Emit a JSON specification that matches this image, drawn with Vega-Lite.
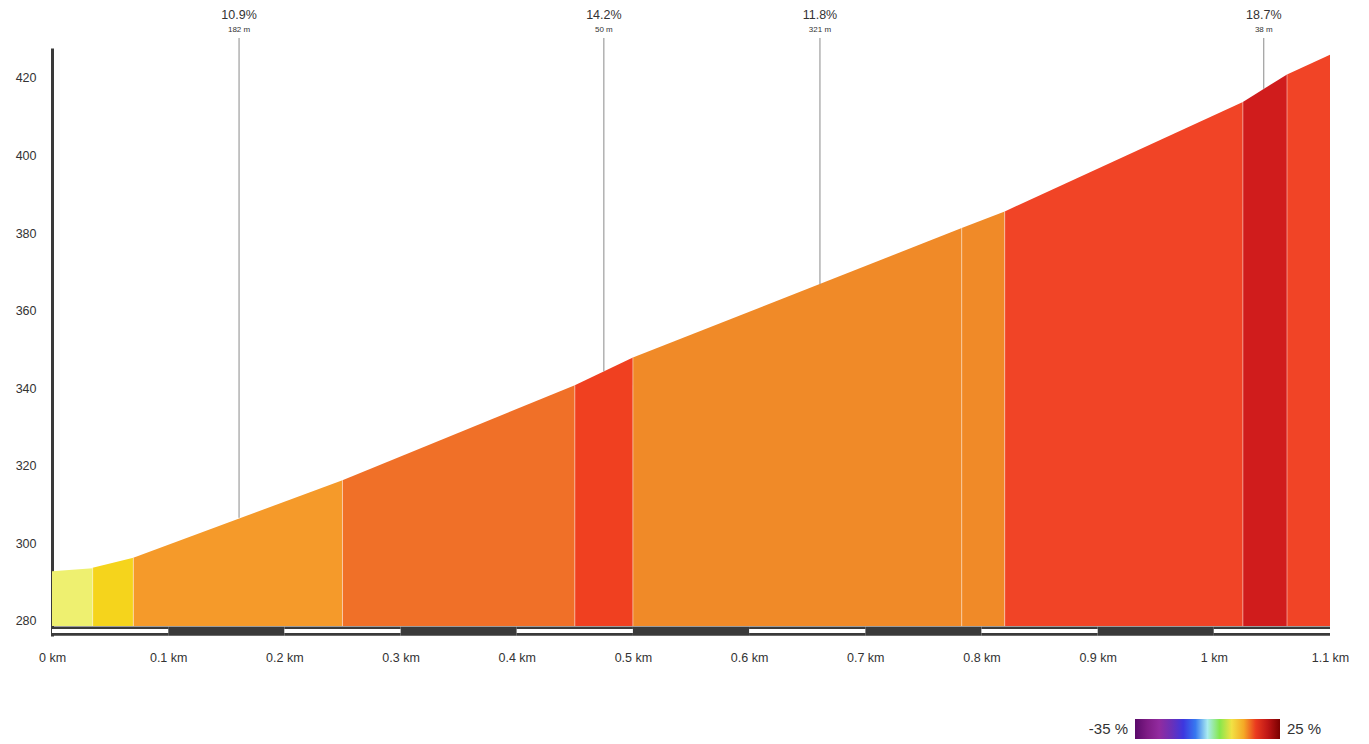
{
  "$schema": "https://vega.github.io/schema/vega-lite/v6.json",
  "autosize": "none",
  "width": 1278,
  "height": 588,
  "padding": {"left": 52, "top": 48, "right": 39, "bottom": 108},
  "background": "white",
  "config": {"view": {"stroke": null}, "font": "Liberation Sans"},
  "datasets": {
    "profile": [
      {"seg": 1, "km": 0, "elev": 292.8, "grade": 2.3},
      {"seg": 1, "km": 0.035, "elev": 293.6, "grade": 2.3},
      {"seg": 2, "km": 0.035, "elev": 293.7, "grade": 7.4},
      {"seg": 2, "km": 0.07, "elev": 296.3, "grade": 7.4},
      {"seg": 3, "km": 0.07, "elev": 296.3, "grade": 10.9},
      {"seg": 3, "km": 0.25, "elev": 316.3, "grade": 10.9},
      {"seg": 4, "km": 0.25, "elev": 316.3, "grade": 12.3},
      {"seg": 4, "km": 0.45, "elev": 340.8, "grade": 12.3},
      {"seg": 5, "km": 0.45, "elev": 340.8, "grade": 14.2},
      {"seg": 5, "km": 0.5, "elev": 347.9, "grade": 14.2},
      {"seg": 6, "km": 0.5, "elev": 347.9, "grade": 11.8},
      {"seg": 6, "km": 0.783, "elev": 381.3, "grade": 11.8},
      {"seg": 7, "km": 0.783, "elev": 381.3, "grade": 11.8},
      {"seg": 7, "km": 0.82, "elev": 385.6, "grade": 11.8},
      {"seg": 8, "km": 0.82, "elev": 385.6, "grade": 13.8},
      {"seg": 8, "km": 1.025, "elev": 413.8, "grade": 13.8},
      {"seg": 9, "km": 1.025, "elev": 413.8, "grade": 18.7},
      {"seg": 9, "km": 1.063, "elev": 420.9, "grade": 18.7},
      {"seg": 10, "km": 1.063, "elev": 420.9, "grade": 13.8},
      {"seg": 10, "km": 1.1, "elev": 426.0, "grade": 13.8}
    ],
    "bounds": [
      {"km": 0.035, "elev": 293.7},
      {"km": 0.07, "elev": 296.3},
      {"km": 0.25, "elev": 316.3},
      {"km": 0.45, "elev": 340.8},
      {"km": 0.5, "elev": 347.9},
      {"km": 0.783, "elev": 381.3},
      {"km": 0.82, "elev": 385.6},
      {"km": 1.025, "elev": 413.8},
      {"km": 1.063, "elev": 420.9}
    ],
    "strip": [
      {"from": 0, "to": 0.1, "band": "light"},
      {"from": 0.1, "to": 0.2, "band": "dark"},
      {"from": 0.2, "to": 0.3, "band": "light"},
      {"from": 0.3, "to": 0.4, "band": "dark"},
      {"from": 0.4, "to": 0.5, "band": "light"},
      {"from": 0.5, "to": 0.6, "band": "dark"},
      {"from": 0.6, "to": 0.7, "band": "light"},
      {"from": 0.7, "to": 0.8, "band": "dark"},
      {"from": 0.8, "to": 0.9, "band": "light"},
      {"from": 0.9, "to": 1.0, "band": "dark"},
      {"from": 1.0, "to": 1.1, "band": "light"}
    ],
    "annot": [
      {"km": 0.161, "elev": 306.6, "pct": "10.9%", "len": "182 m"},
      {"km": 0.475, "elev": 344.35, "pct": "14.2%", "len": "50 m"},
      {"km": 0.661, "elev": 366.8, "pct": "11.8%", "len": "321 m"},
      {"km": 1.043, "elev": 417.2, "pct": "18.7%", "len": "38 m"}
    ]
  },
  "layer": [
    {
      "data": {"name": "profile"},
      "mark": {"type": "area", "interpolate": "linear"},
      "encoding": {
        "x": {
          "field": "km", "type": "quantitative",
          "scale": {"domain": [0, 1.1], "nice": false, "zero": false},
          "axis": {
            "title": null, "grid": false, "ticks": false, "tickSize": 0, "domain": false,
            "values": [0, 0.1, 0.2, 0.3, 0.4, 0.5, 0.6, 0.7, 0.8, 0.9, 1.0, 1.1],
            "labelExpr": "format(datum.value, '.1~f') + ' km'",
            "labelPadding": 15, "labelFontSize": 12.5, "labelColor": "#333333",
            "labelFlush": false, "labelOverlap": false
          }
        },
        "y": {
          "field": "elev", "type": "quantitative",
          "scale": {"domain": [276.13, 427.72], "nice": false, "zero": false},
          "axis": {
            "title": null, "grid": false, "ticks": false, "tickSize": 0,
            "values": [280, 300, 320, 340, 360, 380, 400, 420],
            "domainColor": "#3a3a3a", "domainWidth": 3,
            "labelPadding": 16, "labelFontSize": 12.5, "labelColor": "#333333"
          }
        },
        "y2": {"datum": 278.7},
        "detail": {"field": "seg", "type": "nominal"},
        "color": {
          "field": "grade", "type": "quantitative",
          "scale": {
            "type": "linear",
            "interpolate": "rgb",
            "domain": [-35, -26, -19.7, -13, -8.1, -4.8, -1.9, 2.3, 7.4, 10.9, 11.8, 12.3, 13.8, 14.2, 18.7, 25],
            "range": ["#5a0a6a", "#9a2a9a", "#6a30b8", "#2a3af0", "#40a0f0", "#b0f0f0", "#30e030", "#eef070", "#f5d41c", "#f59a2a", "#f08a28", "#f07028", "#f14426", "#f04020", "#d01c1c", "#7a0000"]
          },
          "legend": {
            "orient": "none", "legendX": 1083, "legendY": 671,
            "direction": "horizontal", "title": null,
            "gradientLength": 145, "gradientThickness": 20, "gradientStrokeWidth": 0,
            "values": [-35, 25],
            "labelExpr": "datum.value + ' %'",
            "labelFontSize": 15, "labelColor": "#333333", "labelOverlap": false,
            "encode": {
              "labels": {
                "update": {
                  "x": {"signal": "datum.perc < 0.5 ? -7 : 152"},
                  "y": {"value": 10},
                  "align": {"signal": "datum.perc < 0.5 ? 'right' : 'left'"},
                  "baseline": {"value": "middle"}
                }
              }
            }
          }
        }
      }
    },
    {
      "data": {"name": "bounds"},
      "mark": {"type": "rule", "color": "#ffffff", "opacity": 0.45, "strokeWidth": 1},
      "encoding": {
        "x": {"field": "km", "type": "quantitative"},
        "y": {"field": "elev", "type": "quantitative"},
        "y2": {"datum": 278.7}
      }
    },
    {
      "data": {"name": "strip"},
      "mark": {"type": "rect", "color": "#3a3a3a"},
      "encoding": {
        "x": {"field": "from", "type": "quantitative"},
        "x2": {"field": "to"},
        "y": {"datum": 278.6, "type": "quantitative"},
        "y2": {"datum": 276.2}
      }
    },
    {
      "data": {"name": "strip"},
      "transform": [{"filter": "datum.band === 'light'"}],
      "mark": {"type": "rect", "color": "#ffffff"},
      "encoding": {
        "x": {"field": "from", "type": "quantitative"},
        "x2": {"field": "to"},
        "y": {"datum": 277.95, "type": "quantitative"},
        "y2": {"datum": 276.9}
      }
    },
    {
      "data": {"name": "annot"},
      "mark": {"type": "rule", "color": "#8a8a8a", "strokeWidth": 1},
      "encoding": {
        "x": {"field": "km", "type": "quantitative"},
        "y": {"field": "elev", "type": "quantitative"},
        "y2": {"datum": 430.3}
      }
    },
    {
      "data": {"name": "annot"},
      "mark": {"type": "text", "fontSize": 12.5, "color": "#333333", "baseline": "middle", "align": "center", "dy": -23},
      "encoding": {
        "x": {"field": "km", "type": "quantitative"},
        "y": {"datum": 430.3, "type": "quantitative"},
        "text": {"field": "pct"}
      }
    },
    {
      "data": {"name": "annot"},
      "mark": {"type": "text", "fontSize": 8, "color": "#333333", "baseline": "middle", "align": "center", "dy": -8},
      "encoding": {
        "x": {"field": "km", "type": "quantitative"},
        "y": {"datum": 430.3, "type": "quantitative"},
        "text": {"field": "len"}
      }
    }
  ]
}
